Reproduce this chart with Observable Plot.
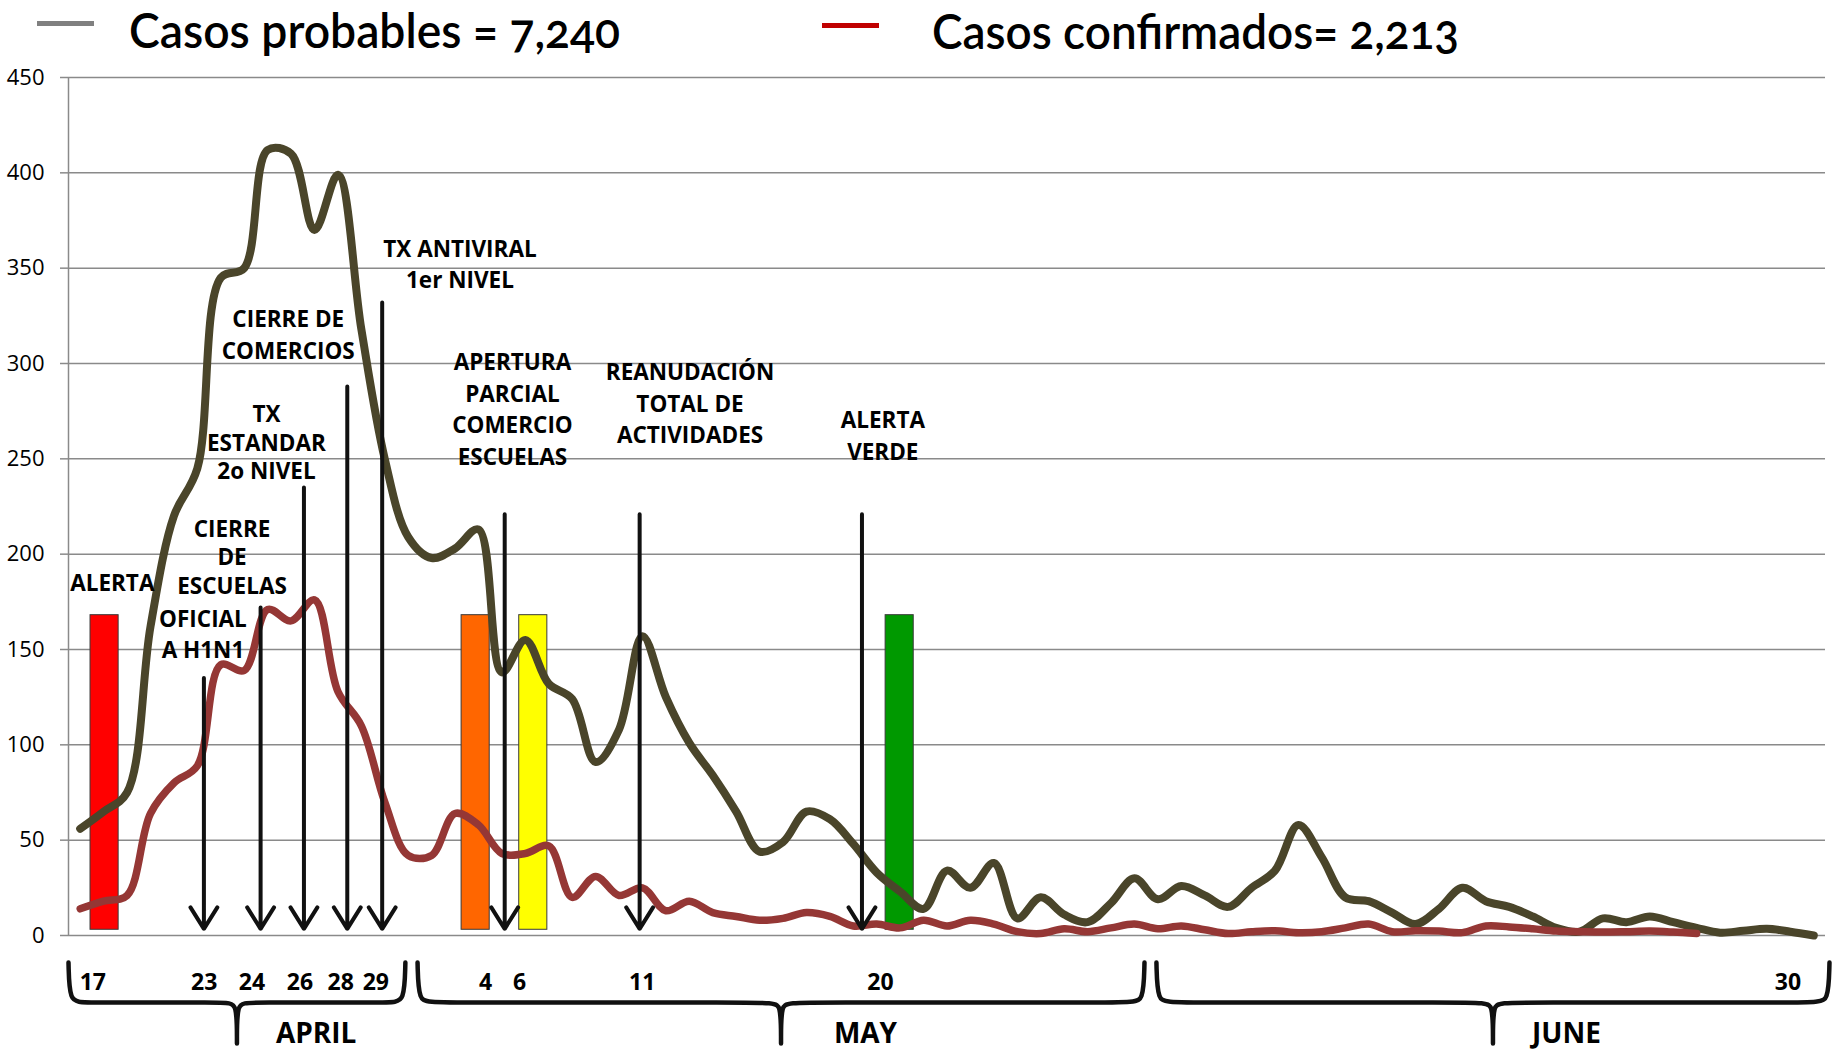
<!DOCTYPE html>
<html>
<head>
<meta charset="utf-8">
<script src="https://cdn.jsdelivr.net/npm/d3@7"></script>
<script src="https://cdn.jsdelivr.net/npm/@observablehq/plot@0.6"></script>
<style>
  html, body { margin: 0; padding: 0; background: #fff; }
  #legend { position: relative; width: 1833px; height: 60px; font-family: Lato, "Open Sans", sans-serif; }
  .sw { position: absolute; width: 57px; height: 5px; }
  .lt { position: absolute; font-size: 48px; font-weight: 600; white-space: nowrap;
        color: #000; transform-origin: 0 50%; font-variant-numeric: oldstyle-nums; }
  #chart svg { display: block; }
</style>
</head>
<body>
<div id="legend"></div>
<div id="chart"></div>
<script>
// ---------------- DATA ----------------
// Daily series, one value per day from 17 April (index 0) to 30 June (index 74)
const probables = [
  56, 65, 75, 162, 220, 245, 345, 350, 412, 410,
  370, 399, 318, 250, 209, 198, 203, 213, 138, 155,
  132, 124, 91, 108, 157, 125, 101, 84, 65, 44,
  49, 65, 61, 48, 33, 23, 14, 34, 25, 38,
  9, 20, 11, 7, 17, 30, 19, 26, 21, 15,
  25, 34, 58, 41, 20, 18, 12, 6, 14, 25,
  18, 15, 10, 4, 2, 9, 7, 10, 7, 4,
  1.5, 2.5, 3.5, 2, 0
];
const confirmados = [
  14, 18, 21, 64, 80, 89, 142, 139, 171, 165,
  176, 128, 110, 70, 42, 42, 64, 58, 43, 43,
  47, 20, 31, 21, 25, 13, 18, 12, 10, 8,
  9, 12, 10, 5, 6, 4, 8, 5, 8, 6,
  2, 1, 3.5, 2, 4, 6, 3.5, 5, 3, 1,
  2, 2.5, 1.5, 2, 4, 6, 2, 2.5, 2.3, 1.5,
  5, 4.5, 3.5, 2.3, 2, 1.8, 2, 2.3, 1.8, 1
];
const seriesNames = ["Casos probables", "Casos confirmados"];
const legendLabels = ["Casos probables = 7,240", "Casos confirmados= 2,213"];

const yTicks = [0, 50, 100, 150, 200, 250, 300, 350, 400, 450];

// alert-level bars (day index of centre) and their top value
const barCenters = [1.04, 16.88, 19.34, 34.98];
const barTop = 168;

// event arrows: day index and top value
const arrowX = [5.28, 7.70, 9.55, 11.40, 12.89, 18.12, 23.88, 33.37];
const arrowTop = [135, 172, 235, 288, 332, 221, 221, 221];

// event notes: text, day index and value of the text block centre
const eventLabels = ["ALERTA", "CIERRE\nDE\nESCUELAS", "OFICIAL\nA H1N1", "TX\nESTANDAR\n2o NIVEL",
  "CIERRE DE\nCOMERCIOS", "TX ANTIVIRAL\n1er NIVEL", "APERTURA\nPARCIAL\nCOMERCIO\nESCUELAS",
  "REANUDACIÓN\nTOTAL DE\nACTIVIDADES", "ALERTA\nVERDE"];
const eventX = [1.37, 6.48, 5.24, 7.95, 8.88, 16.21, 18.45, 26.03, 34.26];
const eventY = [186, 199, 159, 259, 316, 353, 277, 280, 263];

// day labels under the axis
const dayLabels = ["17", "23", "24", "26", "28", "29", "4", "6", "11", "20", "30"];
const dayLabelX = [0.54, 5.29, 7.33, 9.38, 11.12, 12.62, 17.3, 18.75, 23.99, 34.16, 72.9];

// months: brace extent (day index) and label position
const monthNames = ["APRIL", "MAY", "JUNE"];
const monthStart = [-0.5, 14.40, 45.94];
const monthEnd = [13.88, 45.43, 74.67];
const monthLabelX = [10.07, 33.52, 63.44];

// ---------------- STYLE ----------------
const barColors = ["#ff0000", "#ff6600", "#ffff00", "#009900"];
const lineColors = ["#4a452a", "#953735"];
const legendColors = ["#808080", "#c00000"];
const gridColor = "#8a8a8a";
const eventLineHeight = {"CIERRE\nDE\nESCUELAS": 1.27, "TX\nESTANDAR\n2o NIVEL": 1.27};
const FONT = "'Open Sans', sans-serif";

// ---------------- LEGEND (HTML above the SVG) ----------------
const legend = document.getElementById("legend");
const swLeft = [37, 822], swTop = [21, 23], ltLeft = [129, 932], ltTop = [1, 2], ltWidth = [491, 527];
legendLabels.forEach((t, k) => {
  const s = document.createElement("div");
  s.className = "sw";
  s.style.left = swLeft[k] + "px"; s.style.top = swTop[k] + "px"; s.style.background = legendColors[k];
  legend.appendChild(s);
  const l = document.createElement("div");
  l.className = "lt";
  l.style.left = ltLeft[k] + "px"; l.style.top = ltTop[k] + "px";
  l.textContent = t;
  legend.appendChild(l);
  const w = l.getBoundingClientRect().width;
  if (w > 0) l.style.transform = `scaleX(${ltWidth[k] / w})`;
});

// ---------------- CHART ----------------
const W = 1833, H = 993;
const M = {top: 17, right: 8, bottom: 118, left: 68};
const pxPerDay = (W - M.left - M.right) / 75;
const pxPerUnit = (H - M.top - M.bottom) / 450;
const below = px => -px / pxPerUnit;   // pixel offset under the zero line, in value units
const dd = px => px / pxPerDay;        // pixel width in day units

const probRows = probables.map((v, i) => ({i, v}));
const confRows = confirmados.map((v, i) => ({i, v}));

const bars = barCenters.map((c, k) => ({x1: c - 0.6, x2: c + 0.6, y1: 3, y2: barTop, fill: barColors[k]}));
const arrows = arrowX.map((x, k) => ({x, top: arrowTop[k]}));
const events = eventLabels.map((t, k) => ({t, x: eventX[k], y: eventY[k]}));
const days = dayLabels.map((t, k) => ({t, x: dayLabelX[k]}));
const months = monthNames.map((t, k) => ({t, x: monthLabelX[k]}));

const bT = below(27), bM = below(67), bP = below(108);
const braces = monthNames.flatMap((m, k) => {
  const s = monthStart[k], e = monthEnd[k], c = (s + e) / 2;
  const pts = [[s, bT], [s, bT], [s + dd(1), bM], [s + dd(14), bM], [c - dd(10), bM], [c, bM],
    [c, bP], [c, bP], [c, bP], [c, bM], [c + dd(10), bM], [e - dd(14), bM], [e - dd(1), bM], [e, bT], [e, bT]];
  return pts.map(([x, y]) => ({month: m, x, y}));
});

const textStyle = {fill: "#000", fontWeight: 700, fontFamily: FONT};
const lhGroups = d3.group(events, d => eventLineHeight[d.t] ?? 1.4);

const chart = Plot.plot({
  width: W, height: H,
  marginTop: M.top, marginRight: M.right, marginBottom: M.bottom, marginLeft: M.left,
  x: {domain: [-0.5, 74.5], axis: null},
  y: {domain: [0, 450]},
  color: {type: "identity"},
  style: {fontFamily: FONT, fontSize: "22px", background: "#fff", overflow: "visible"},
  marks: [
    Plot.gridY(yTicks, {stroke: gridColor, strokeOpacity: 1, strokeWidth: 1.5}),
    Plot.axisY(yTicks, {tickSize: 8, tickPadding: 16, stroke: gridColor, strokeWidth: 1.5,
      fontSize: 22, fill: "#000", tickFormat: d => String(d), label: null}),
    Plot.ruleX([-0.5], {stroke: gridColor, strokeWidth: 1.5}),
    Plot.rect(bars, {x1: "x1", x2: "x2", y1: "y1", y2: "y2", fill: "fill", stroke: "#3a3a3a", strokeWidth: 1}),
    Plot.line(probRows, {x: "i", y: "v", stroke: lineColors[0], strokeWidth: 8, curve: "catmull-rom",
      strokeLinecap: "round", strokeLinejoin: "round"}),
    Plot.line(confRows, {x: "i", y: "v", stroke: lineColors[1], strokeWidth: 7.5, curve: "catmull-rom",
      strokeLinecap: "round", strokeLinejoin: "round"}),
    Plot.arrow(arrows, {x1: "x", x2: "x", y1: "top", y2: () => 3.5, stroke: "#111", strokeWidth: 4,
      headLength: 9.5, headAngle: 64}),
    ...Array.from(lhGroups, ([lh, rows]) =>
      Plot.text(rows, {x: "x", y: "y", text: "t", fontSize: 22.5, lineHeight: lh, ...textStyle})),
    Plot.text(days, {x: "x", y: () => 0, dy: 47, text: "t", fontSize: 23, ...textStyle}),
    Plot.line(braces, {x: "x", y: "y", z: "month", stroke: "#111", strokeWidth: 4.5, curve: "basis"}),
    Plot.text(months, {x: "x", y: () => 0, dy: 99, text: "t", fontSize: 28, ...textStyle})
  ]
});
document.getElementById("chart").appendChild(chart);
</script>
</body>
</html>
